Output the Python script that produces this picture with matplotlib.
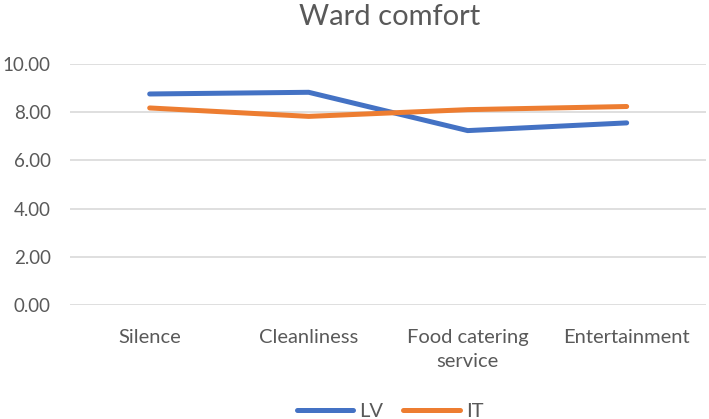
import matplotlib.pyplot as plt
import numpy as np

plt.rcParams['font.family'] = ['Lato', 'DejaVu Sans']

# data
categories = ['Silence', 'Cleanliness', 'Food catering\nservice', 'Entertainment']
lv = [8.76, 8.83, 7.24, 7.56]
it = [8.18, 7.83, 8.11, 8.24]
yticks = [0, 2, 4, 6, 8, 10]

txt = '#595959'
fig = plt.figure(figsize=(7.09, 4.19), dpi=100)
ax = fig.add_axes([0.099, 0.272, 0.897, 0.575])

x = np.arange(len(categories))
ax.plot(x, lv, color='#4472C4', lw=3.6, solid_capstyle='round', solid_joinstyle='round', label='LV')
ax.plot(x, it, color='#ED7D31', lw=3.6, solid_capstyle='round', solid_joinstyle='round', label='IT')

ax.set_xlim(-0.5, len(categories) - 0.5)
ax.set_ylim(0, 10)
ax.set_yticks(yticks)
ax.set_yticklabels(['%.2f' % v for v in yticks])
ax.set_xticks(x)
ax.set_xticklabels(categories, linespacing=1.55)
ax.grid(axis='y', color='#D9D9D9', lw=1.2)
ax.set_axisbelow(True)
for s in ax.spines.values():
    s.set_visible(False)
ax.tick_params(length=0, labelsize=14.5, colors=txt)
ax.tick_params(axis='x', pad=17)
ax.tick_params(axis='y', pad=14, labelsize=13.5)

fig.suptitle('Ward comfort', x=0.55, y=0.99, fontsize=21, color=txt)
fig.legend(loc='lower center', bbox_to_anchor=(0.55, -0.045), ncol=2, frameon=False,
           fontsize=14.5, labelcolor=txt, handlelength=2.8, columnspacing=1.0, handletextpad=0.3)

fig.savefig('out.png', dpi=100)
